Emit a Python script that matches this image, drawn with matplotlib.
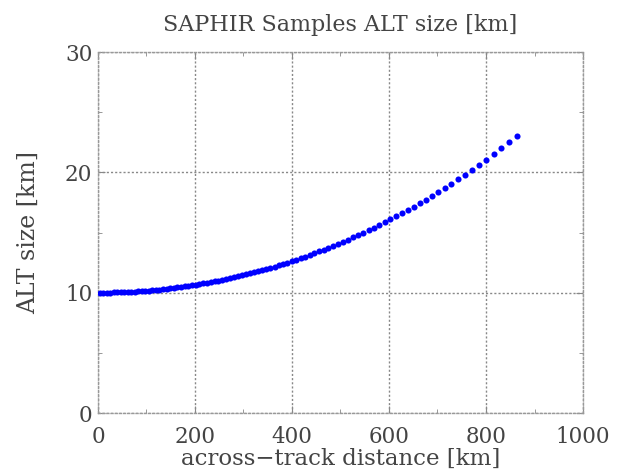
import numpy as np
import matplotlib
matplotlib.use("Agg")
import matplotlib.pyplot as plt
from matplotlib.ticker import MultipleLocator

# across-track distance of each sample [km]
dist = [3.59, 10.76, 17.94, 25.13, 32.32, 39.51, 46.72, 53.92, 61.14, 68.36,
        75.58, 82.82, 90.08, 97.35, 104.65, 111.96, 119.30, 126.65, 134.02, 141.42,
        148.83, 156.26, 163.73, 171.23, 178.77, 186.33, 193.94, 201.57, 209.24, 216.94,
        224.68, 232.45, 240.27, 248.14, 256.07, 264.04, 272.06, 280.14, 288.26, 296.44,
        304.66, 312.93, 321.27, 329.69, 338.18, 346.74, 355.37, 364.08, 372.86, 381.71,
        390.63, 399.62, 408.71, 417.90, 427.19, 436.59, 446.09, 455.69, 465.39, 475.19,
        485.10, 495.09, 505.22, 515.50, 525.92, 536.49, 547.20, 558.05, 569.05, 580.19,
        591.48, 602.87, 614.47, 626.28, 638.30, 650.53, 662.97, 675.63, 688.50, 701.57,
        714.86, 728.30, 742.06, 756.14, 770.53, 785.24, 800.26, 815.60, 831.26, 847.23,
        863.52]

# ALT footprint size [km]
alt_size = [10.000, 10.002, 10.005, 10.011, 10.017, 10.026, 10.036, 10.048, 10.062, 10.078,
            10.095, 10.113, 10.133, 10.155, 10.179, 10.204, 10.231, 10.260, 10.291, 10.324,
            10.359, 10.396, 10.434, 10.475, 10.518, 10.563, 10.610, 10.660, 10.711, 10.765,
            10.821, 10.879, 10.939, 11.002, 11.067, 11.135, 11.206, 11.280, 11.356, 11.435,
            11.516, 11.599, 11.686, 11.777, 11.871, 11.968, 12.069, 12.173, 12.281, 12.392,
            12.507, 12.624, 12.746, 12.873, 13.005, 13.142, 13.284, 13.430, 13.582, 13.738,
            13.899, 14.063, 14.234, 14.413, 14.598, 14.791, 14.992, 15.199, 15.414, 15.637,
            15.866, 16.098, 16.342, 16.597, 16.864, 17.144, 17.434, 17.737, 18.052, 18.378,
            18.716, 19.056, 19.417, 19.799, 20.201, 20.623, 21.066, 21.529, 22.013, 22.518,
            23.043]

xticks = [0, 200, 400, 600, 800, 1000]
yticks = [0, 10, 20, 30]

plt.rcParams['font.family'] = ['DejaVu Serif']
txt = '#444444'

fig = plt.figure(figsize=(6.17, 4.75), dpi=100)
ax = fig.add_axes([0.1588, 0.1305, 0.7861, 0.76])

ax.plot(dist, alt_size, 'o', color='#0000ff', markersize=4.4,
        markeredgewidth=0, zorder=3)

ax.set_xlim(0, 1000)
ax.set_ylim(0, 30)
ax.set_xticks(xticks)
ax.set_yticks(yticks)
ax.xaxis.set_minor_locator(MultipleLocator(100))
ax.yaxis.set_minor_locator(MultipleLocator(5))

ax.grid(True, which='major', linestyle=(0, (1.5, 1.5)), color='#888888', linewidth=1.0)
for s in ax.spines.values():
    s.set_linestyle((0, (1.5, 1.5)))
    s.set_color('#999999')
    s.set_linewidth(1.0)

ax.tick_params(which='both', direction='in', top=True, right=True,
               color='#888888', labelcolor=txt, labelsize=15.5)
ax.tick_params(which='major', length=5)
ax.tick_params(which='minor', length=3)
ax.tick_params(axis='x', pad=9)
ax.tick_params(axis='y', pad=4)

ax.set_title('SAPHIR Samples ALT size [km]', fontsize=16, color=txt, pad=15)
ax.set_xlabel('across\u2212track distance [km]', fontsize=16.5, color=txt, labelpad=0)
ax.set_ylabel('ALT size [km]', fontsize=17, color=txt, labelpad=18)

fig.savefig('out.png', dpi=100)
